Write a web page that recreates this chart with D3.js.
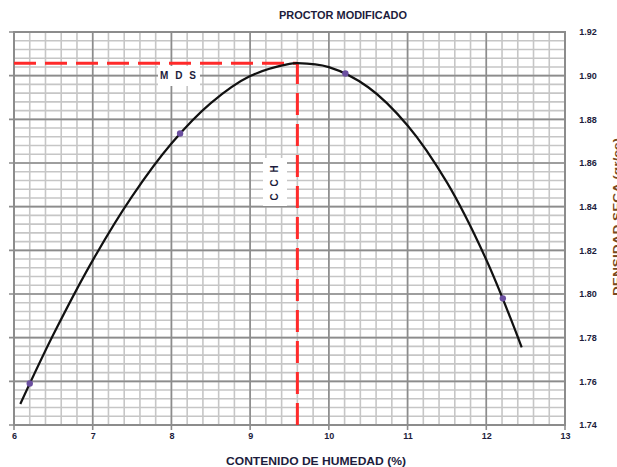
<!DOCTYPE html>
<html>
<head>
<meta charset="utf-8">
<script src="https://cdn.jsdelivr.net/npm/d3@7"></script>
<style>
  html, body { margin: 0; padding: 0; background: #fff; }
  svg { display: block; }
  text { font-family: "Liberation Sans Narrow", "Arial Narrow", "Liberation Sans", Arial, sans-serif; font-weight: bold; }
</style>
</head>
<body>
<svg id="chart" width="617" height="467"></svg>
<script>
// ---- data ----
const xTicks = [6, 7, 8, 9, 10, 11, 12, 13];
const yTicks = [1.74, 1.76, 1.78, 1.80, 1.82, 1.84, 1.86, 1.88, 1.90, 1.92];
const yTickLabels = ["1.74", "1.76", "1.78", "1.80", "1.82", "1.84", "1.86", "1.88", "1.90", "1.92"];
const pointsX = [6.2, 8.11, 10.21, 12.21];
const pointsY = [1.759, 1.8735, 1.901, 1.798];
const curveX = [6.08, 6.5, 7.0, 7.5, 8.0, 8.5, 9.0, 9.5, 9.6, 10.0, 10.5, 11.0, 11.5, 12.0, 12.45];
const curveY = [1.7496, 1.7814, 1.8154, 1.8447, 1.8689, 1.8874, 1.8998, 1.9054, 1.9057, 1.9039, 1.8947, 1.8772, 1.8511, 1.8157, 1.7756];
const mdsValue = 1.9057;   // maxima densidad seca
const ochValue = 9.6;      // contenido optimo de humedad
const titleText = "PROCTOR MODIFICADO";
const xTitle = "CONTENIDO DE HUMEDAD (%)";
const yTitle = "DENSIDAD SECA (gr/cc)";

// ---- layout ----
const L = 14, R = 565, T = 32, B = 425;
const svg = d3.select("#chart");
const x = d3.scaleLinear().domain([6, 13]).range([L, R]);
const y = d3.scaleLinear().domain([1.74, 1.92]).range([B, T]);

const minorX = d3.range(0, 36).map(i => 6 + i * 0.2);
const minorY = d3.range(0, 46).map(i => 1.74 + i * 0.004);

const grid = svg.append("g");
grid.selectAll("line.mx").data(minorX).join("line")
  .attr("x1", d => x(d)).attr("x2", d => x(d)).attr("y1", T).attr("y2", B)
  .attr("stroke", "#c6c6c6").attr("stroke-width", 1.6);
grid.selectAll("line.my").data(minorY).join("line")
  .attr("y1", d => y(d)).attr("y2", d => y(d)).attr("x1", L).attr("x2", R)
  .attr("stroke", "#c6c6c6").attr("stroke-width", 1.6);

// major grid with outward ticks (left & bottom)
grid.selectAll("line.Mx").data(xTicks).join("line")
  .attr("x1", d => x(d)).attr("x2", d => x(d)).attr("y1", T).attr("y2", B + 5)
  .attr("stroke", "#8c8c8c").attr("stroke-width", 1.6);
grid.selectAll("line.My").data(yTicks).join("line")
  .attr("y1", d => y(d)).attr("y2", d => y(d)).attr("x1", L - 5).attr("x2", R)
  .attr("stroke", "#8c8c8c").attr("stroke-width", 1.6);

svg.append("rect").attr("x", L).attr("y", T).attr("width", R - L).attr("height", B - T)
  .attr("fill", "none").attr("stroke", "#8c8c8c").attr("stroke-width", 2);

// axes labels via d3 axes (lines hidden)
const xAxis = svg.append("g").attr("transform", `translate(0,${B})`)
  .call(d3.axisBottom(x).tickValues(xTicks).tickFormat(d3.format("d")).tickSize(0).tickPadding(8));
const yAxis = svg.append("g").attr("transform", `translate(${R},0)`)
  .call(d3.axisRight(y).tickValues(yTicks).tickFormat((d, i) => yTickLabels[i]).tickSize(0).tickPadding(15));
[xAxis, yAxis].forEach(g => {
  g.select(".domain").remove();
  g.selectAll("text").attr("fill", "#1c1c3c").attr("font-size", 9)
    .attr("font-family", "'Liberation Sans Narrow','Arial Narrow','Liberation Sans',sans-serif")
    .attr("font-weight", "bold");
});
yAxis.selectAll("text").attr("text-anchor", "middle").attr("dx", 8);

// red dashed MDS / OCH lines
svg.append("line")
  .attr("x1", x(6)).attr("x2", x(ochValue)).attr("y1", y(mdsValue)).attr("y2", y(mdsValue))
  .attr("stroke", "#ff2a2a").attr("stroke-width", 3).attr("stroke-dasharray", "22,9");
svg.append("line")
  .attr("x1", x(ochValue)).attr("x2", x(ochValue)).attr("y1", B).attr("y2", y(mdsValue))
  .attr("stroke", "#ff2a2a").attr("stroke-width", 3).attr("stroke-dasharray", "22,9");

// label boxes
svg.append("rect").attr("x", 158).attr("y", 66).attr("width", 42).attr("height", 20).attr("fill", "#fff");
svg.append("text").attr("x", 179).attr("y", 79).attr("text-anchor", "middle")
  .attr("font-size", 10).attr("fill", "#1c1c3c").attr("letter-spacing", 2).text("M D S");
svg.append("rect").attr("x", 263).attr("y", 158).attr("width", 24).attr("height", 48).attr("fill", "#fff");
svg.append("text").attr("transform", "translate(278,182) rotate(-90)").attr("text-anchor", "middle")
  .attr("font-size", 10).attr("fill", "#1c1c3c").attr("letter-spacing", 2).text("C C H");

// fitted curve
const line = d3.line().x((d, i) => x(curveX[i])).y((d, i) => y(curveY[i])).curve(d3.curveCatmullRom);
svg.append("path").datum(curveX).attr("d", line)
  .attr("fill", "none").attr("stroke", "#111").attr("stroke-width", 2.2);

// data points
svg.selectAll("circle.pt").data(pointsX).join("circle")
  .attr("cx", d => x(d)).attr("cy", (d, i) => y(pointsY[i])).attr("r", 3.2)
  .attr("fill", "#6b4fa0");

// titles
svg.append("text").attr("x", 343).attr("y", 19).attr("text-anchor", "middle")
  .attr("font-size", 10.5).attr("fill", "#1c1c3c")
  .attr("textLength", 128).attr("lengthAdjust", "spacingAndGlyphs").text(titleText);
svg.append("text").attr("x", 316).attr("y", 465).attr("text-anchor", "middle")
  .attr("font-size", 10.5).attr("fill", "#1c1c3c")
  .attr("textLength", 180).attr("lengthAdjust", "spacingAndGlyphs").text(xTitle);
svg.append("text").attr("transform", "translate(621,217) rotate(-90)").attr("text-anchor", "middle")
  .attr("font-size", 10).attr("fill", "#7a4a20")
  .attr("textLength", 158).attr("lengthAdjust", "spacingAndGlyphs").text(yTitle);
</script>
</body>
</html>
